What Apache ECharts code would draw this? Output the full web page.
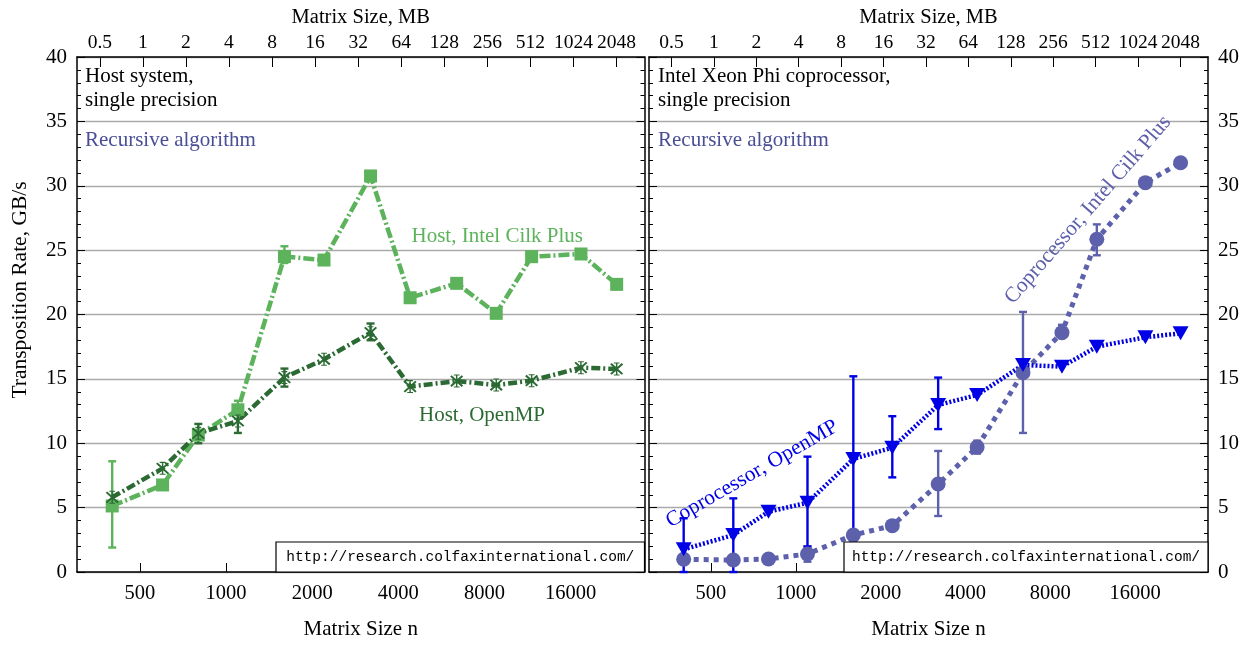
<!DOCTYPE html>
<html><head><meta charset="utf-8">
<script src="https://cdn.jsdelivr.net/npm/echarts@6/dist/echarts.min.js"></script>
<style>html,body{margin:0;padding:0;background:#fff}#chart{width:1251px;height:646px}</style>
</head><body><div id="chart"></div>
<script>
// ---- data ----
const matrixN = [400, 600, 800, 1100, 1600, 2200, 3200, 4400, 6400, 8800, 11700, 17400, 23200];
const hostCilk = [5.13, 6.76, 10.64, 12.6, 24.5, 24.23, 30.76, 21.3, 22.42, 20.09, 24.49, 24.7, 22.34];
const hostOmp  = [5.8, 8.05, 10.77, 11.73, 15.1, 16.52, 18.59, 14.4, 14.83, 14.52, 14.86, 15.87, 15.77];
const phiOmp   = [1.76, 2.87, 4.68, 5.38, 8.78, 9.66, 12.97, 13.75, 16.08, 15.95, 17.5, 18.23, 18.54];
const phiCilk  = [0.99, 0.93, 1.01, 1.4, 2.87, 3.6, 6.83, 9.7, 15.48, 18.59, 25.84, 30.24, 31.79];
const hostCilkLow  = [1.9, null, null, 11.9, 24.0, null, null, null, null, null, null, null, null];
const hostCilkHigh = [8.6, null, null, 13.3, 25.3, null, null, null, null, null, null, null, null];
const hostOmpLow   = [null, null, 10.0, 10.8, 14.4, null, 18.0, null, null, null, null, null, null];
const hostOmpHigh  = [null, null, 11.5, 12.7, 15.8, null, 19.3, null, null, null, null, null, null];
const phiOmpLow    = [0, 0, null, 1.97, 2.4, 7.35, 11.1, null, null, null, null, null, null];
const phiOmpHigh   = [4.17, 5.72, null, 8.96, 15.2, 12.1, 15.1, null, null, null, null, null, null];
const phiCilkLow   = [null, null, null, 0.8, null, null, 4.35, 9.2, 10.8, 18.2, 24.6, null, null];
const phiCilkHigh  = [null, null, null, 2.0, null, null, 9.4, 10.2, 20.2, 19.2, 27.0, null, null];
const nTicks  = [500, 1000, 2000, 4000, 8000, 16000];
const mbTicks = [0.5, 1, 2, 4, 8, 16, 32, 64, 128, 256, 512, 1024, 2048];
const yTicks  = [0, 5, 10, 15, 20, 25, 30, 35, 40];

// ---- helpers ----
const SERIF = '"Liberation Serif", "Times New Roman", serif';
const MONO = '"Liberation Mono", "Courier New", monospace';
const lg = n => Math.log2(n);
const mbToLogN = mb => Math.log2(Math.sqrt(mb * 1048576 / 4)); // single precision n x n
const X_MIN = 8.235, X_MAX = 14.825;
const C_HC = '#5cb35c', C_HO = '#2b6a33', C_PO = '#0000e6', C_PC = '#5d60ab', C_REC = '#4a4e96';

const ASTER = 'path://M9,0L11,0L11,20L9,20Z M1,3L3,1L19,17L17,19Z M17,1L19,3L3,19L1,17Z M6,0L14,0L14,1.6L6,1.6Z M6,18.4L14,18.4L14,20L6,20Z';

function xBottom(grid) {
  return {
    type: 'value', gridIndex: grid, position: 'bottom', min: X_MIN, max: X_MAX,
    name: 'Matrix Size n', nameLocation: 'middle', nameGap: 47,
    nameTextStyle: {fontFamily: SERIF, fontSize: 21, color: '#000'},
    axisLine: {show: true, onZero: false, lineStyle: {color: '#000', width: 1.5}},
    axisTick: {show: true, inside: true, length: 9, customValues: nTicks.map(lg), lineStyle: {color: '#000', width: 1}},
    axisLabel: {show: true, customValues: nTicks.map(lg), margin: 11, fontFamily: SERIF, fontSize: 20.5, color: '#000',
      formatter: v => String(Math.round(Math.pow(2, v)))},
    splitLine: {show: false}
  };
}
function xTop(grid) {
  return {
    type: 'value', gridIndex: grid, position: 'top', min: X_MIN, max: X_MAX,
    name: 'Matrix Size, MB', nameLocation: 'middle', nameGap: 28,
    nameTextStyle: {fontFamily: SERIF, fontSize: 20.5, color: '#000'},
    axisLine: {show: true, onZero: false, lineStyle: {color: '#000', width: 1.5}},
    axisTick: {show: true, inside: true, length: 10, customValues: mbTicks.map(mbToLogN), lineStyle: {color: '#000', width: 1}},
    axisLabel: {show: true, customValues: mbTicks.map(mbToLogN), margin: 4, fontFamily: SERIF, fontSize: 19.5, color: '#000',
      formatter: v => { let best = mbTicks[0]; mbTicks.forEach(m => { if (Math.abs(mbToLogN(m) - v) < Math.abs(mbToLogN(best) - v)) best = m; }); return String(best); }},
    splitLine: {show: false}
  };
}
function yAx(grid, pos, labels, split) {
  return {
    type: 'value', gridIndex: grid, position: pos, min: yTicks[0], max: yTicks[yTicks.length - 1], interval: 5,
    axisLine: {show: true, onZero: false, lineStyle: {color: '#000', width: 1.5}},
    axisTick: {show: true, inside: true, length: 8, lineStyle: {color: '#000', width: 1}},
    minorTick: {show: true, splitNumber: 5, length: 4, lineStyle: {color: '#000', width: 1}},
    axisLabel: {show: labels, margin: 10, fontFamily: SERIF, fontSize: 21, color: '#000'},
    splitLine: {show: split, lineStyle: {color: '#aaaaaa', width: 1.3}}
  };
}
function lineSeries(vals, xi, yi, color, symbol, size, dash, width, extra) {
  return Object.assign({
    type: 'line', xAxisIndex: xi, yAxisIndex: yi,
    data: matrixN.map((n, i) => [lg(n), vals[i]]),
    symbol: symbol, symbolSize: size, showAllSymbol: true,
    itemStyle: {color: color},
    lineStyle: {color: color, width: width, type: dash, cap: 'butt'},
    animation: false, z: 3
  }, extra || {});
}
function errSeries(low, high, xi, yi, color) {
  const data = [];
  matrixN.forEach((n, i) => { if (low[i] != null) data.push([lg(n), low[i], high[i]]); });
  return {
    type: 'custom', xAxisIndex: xi, yAxisIndex: yi, data: data, z: 3, silent: true, animation: false,
    encode: {x: 0, y: [1, 2]},
    renderItem: function (params, api) {
      const x = api.value(0);
      const lo = api.coord([x, api.value(1)]);
      const hi = api.coord([x, api.value(2)]);
      const hw = 4, st = {stroke: color, lineWidth: 2.4};
      return {type: 'group', children: [
        {type: 'line', shape: {x1: lo[0], y1: lo[1], x2: hi[0], y2: hi[1]}, style: st},
        {type: 'line', shape: {x1: lo[0] - hw, y1: lo[1], x2: lo[0] + hw, y2: lo[1]}, style: st},
        {type: 'line', shape: {x1: hi[0] - hw, y1: hi[1], x2: hi[0] + hw, y2: hi[1]}, style: st}
      ]};
    }
  };
}
function txt(x, y, s, color, opts) {
  return Object.assign({
    type: 'text', x: x, y: y, z: 50,
    style: Object.assign({text: s, fill: color, font: '21px ' + SERIF, align: 'left', verticalAlign: 'middle'}, (opts && opts.style) || {})
  }, (opts && opts.el) || {});
}
function urlBox(x1, x2) {
  return {type: 'group', z: 60, children: [
    {type: 'rect', shape: {x: x1, y: 542, width: x2 - x1, height: 30}, style: {fill: '#fff', stroke: '#000', lineWidth: 1.2}, z: 60},
    {type: 'text', x: (x1 + x2) / 2, y: 557, z: 61,
      style: {text: 'http://research.colfaxinternational.com/', fill: '#000', font: '14.5px ' + MONO, align: 'center', verticalAlign: 'middle'}}
  ]};
}

const chart = echarts.init(document.getElementById('chart'), null, {renderer: 'canvas'});
chart.setOption({
  animation: false,
  backgroundColor: '#fff',
  grid: [
    {left: 77, top: 57, width: 567.5, height: 515, containLabel: false},
    {left: 649, top: 57, width: 559, height: 515, containLabel: false}
  ],
  xAxis: [xBottom(0), xTop(0), xBottom(1), xTop(1)],
  yAxis: [yAx(0, 'left', true, true), yAx(0, 'right', false, false), yAx(1, 'left', false, true), yAx(1, 'right', true, false)],
  series: [
    errSeries(hostCilkLow, hostCilkHigh, 0, 0, C_HC),
    lineSeries(hostCilk, 0, 0, C_HC, 'rect', 13, [11, 3, 2, 3], 4.5),
    errSeries(hostOmpLow, hostOmpHigh, 0, 0, C_HO),
    lineSeries(hostOmp, 0, 0, C_HO, ASTER, 13, [9, 3, 2, 3], 4.5),
    errSeries(phiCilkLow, phiCilkHigh, 2, 2, C_PC),
    lineSeries(phiCilk, 2, 2, C_PC, 'circle', 15, [5, 5], 5),
    errSeries(phiOmpLow, phiOmpHigh, 2, 2, C_PO),
    lineSeries(phiOmp, 2, 2, C_PO, 'triangle', [16, 14], [2, 2], 4.5, {symbolRotate: 180})
  ],
  graphic: [
    txt(20, 290, 'Transposition Rate, GB/s', '#000', {el: {rotation: Math.PI / 2}, style: {align: 'center', font: '21.5px ' + SERIF}}),
    txt(85, 76.5, 'Host system,', '#000'),
    txt(85, 100.5, 'single precision', '#000'),
    txt(85, 140.5, 'Recursive algorithm', C_REC),
    txt(411.5, 236.5, 'Host, Intel Cilk Plus', C_HC),
    txt(419, 415.5, 'Host, OpenMP', C_HO),
    txt(658, 76.5, 'Intel Xeon Phi coprocessor,', '#000'),
    txt(658, 100.5, 'single precision', '#000'),
    txt(658, 140.5, 'Recursive algorithm', C_REC),
    txt(752, 474, 'Coprocessor, OpenMP', C_PO, {el: {rotation: 30 * Math.PI / 180}, style: {align: 'center', font: '21.5px ' + SERIF}}),
    txt(1088, 210, 'Coprocessor, Intel Cilk Plus', C_PC, {el: {rotation: 49 * Math.PI / 180}, style: {align: 'center', font: '21.5px ' + SERIF}}),
    urlBox(276, 644.5),
    urlBox(844, 1208)
  ]
});
</script></body></html>
